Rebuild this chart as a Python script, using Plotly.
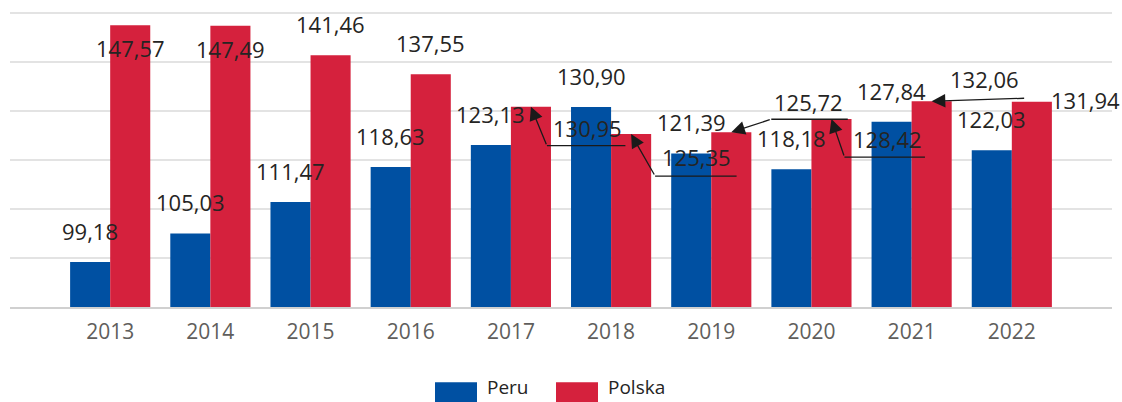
import plotly.graph_objects as go

years = ["2013", "2014", "2015", "2016", "2017", "2018", "2019", "2020", "2021", "2022"]
peru = [99.18, 105.03, 111.47, 118.63, 123.13, 130.90, 121.39, 118.18, 127.84, 122.03]
polska = [147.57, 147.49, 141.46, 137.55, 130.95, 125.35, 125.72, 128.42, 132.06, 131.94]

series_names = ["Peru", "Polska"]
colors = ["#0050a2", "#d5213d"]

FONT = "Segoe UI, Open Sans, Noto Sans, sans-serif"
LABEL_COLOR = "#252423"
LABEL_SIZE = 22

fig = go.Figure()
for name, vals, col in zip(series_names, [peru, polska], colors):
    fig.add_trace(go.Bar(x=years, y=vals, name=name, marker=dict(color=col, line=dict(width=0)),
                         showlegend=False))

# label placement: (dx, dy) pixel offsets of label centre from bar-top centre (dy positive = up)
default_off = (0, 31)
polska_label_off = {0: (0, -23), 1: (0, -23), 9: (54, 2)}
# connector geometry for displaced labels (pixel offsets from bar-top centre, dy positive = down)
connectors = {
    4: dict(label=(57, 21), bend=(16, 39), end=(96, 39)),
    5: dict(label=(65, 23), bend=(24, 42), end=(107, 42)),
    6: dict(label=(77, -30), bend=(40, -13), end=(118, -13)),
    7: dict(label=(56, 20), bend=(13, 38), end=(95, 38)),
    8: dict(label=(53, -22), bend=(94, -3), end=None),
}

BAR_HALF = 20
anns = []
fmt = lambda v: f"{v:.2f}".replace(".", ",")
lab_font = dict(family=FONT, size=LABEL_SIZE, color=LABEL_COLOR)

for i, v in enumerate(peru):
    anns.append(dict(x=i, y=v, xref="x", yref="y", text=fmt(v), showarrow=False,
                     xshift=-BAR_HALF + default_off[0], yshift=default_off[1], font=lab_font))

for i, v in enumerate(polska):
    if i in connectors:
        c = connectors[i]
        lx, ly = c["label"]
        anns.append(dict(x=i, y=v, xref="x", yref="y", text=fmt(v), showarrow=False,
                         xshift=BAR_HALF + lx, yshift=-ly, font=lab_font))
        bx, by = c["bend"]
        anns.append(dict(x=i, y=v, xref="x", yref="y", text="", showarrow=True,
                         axref="pixel", ayref="pixel", ax=bx, ay=by,
                         xshift=BAR_HALF, arrowhead=2, arrowsize=2.1, arrowwidth=1.3,
                         arrowcolor="#1a1a1a", standoff=0, startstandoff=0))
        if c["end"] is not None:
            ex, ey = c["end"]
            anns.append(dict(x=i, y=v, xref="x", yref="y", text="", showarrow=True,
                             axref="pixel", ayref="pixel", ax=ex - bx, ay=0,
                             xshift=BAR_HALF + bx, yshift=-by, arrowhead=0, arrowwidth=1.3,
                             arrowcolor="#1a1a1a", standoff=0, startstandoff=0))
    else:
        dx, dy = polska_label_off.get(i, default_off)
        anns.append(dict(x=i, y=v, xref="x", yref="y", text=fmt(v), showarrow=False,
                         xshift=BAR_HALF + dx, yshift=dy, font=lab_font))

# custom legend (pixel geometry converted to paper coordinates)
PL, PR, PT, PB = 10, 1112, 10.5, 307.5
pw, ph = PR - PL, PB - PT
shapes = []
legend_x = [435, 556]
for name, col, lx in zip(series_names, colors, legend_x):
    shapes.append(dict(type="rect", xref="paper", yref="paper",
                       x0=(lx - PL) / pw, x1=(lx + 42 - PL) / pw,
                       y0=(PB - 404) / ph, y1=(PB - 383) / ph,
                       fillcolor=col, line=dict(width=0), layer="above"))
    anns.append(dict(x=(lx + 51 - PL) / pw, y=(PB - 401.5) / ph, xref="paper", yref="paper",
                     text=name, showarrow=False, xanchor="left", yanchor="bottom",
                     borderpad=0,
                     font=dict(family=FONT, size=19, color="#252423")))

fig.update_layout(
    width=1122, height=402,
    margin=dict(l=PL, r=1122 - PR, t=PT, b=402 - PB),
    paper_bgcolor="white", plot_bgcolor="white",
    barmode="group", bargap=0.2, bargroupgap=0,
    annotations=anns, shapes=shapes,
    showlegend=False,
    xaxis=dict(type="category", range=[-1, 10], showgrid=False, zeroline=False,
               showline=True, linecolor="#d0d0d0", linewidth=2,
               ticks="", ticklabelstandoff=5,
               tickfont=dict(family=FONT, size=21, color="#605e5c")),
    yaxis=dict(range=[90, 150.5], tickvals=[100, 110, 120, 130, 140, 150], showgrid=True,
               gridcolor="#e3e3e3", gridwidth=2,
               showticklabels=False, zeroline=False, showline=False, ticks=""),
)

fig.write_html("out.html", config={"displayModeBar": False},
               post_script="document.body.style.margin='0';document.body.style.overflow='hidden';")
